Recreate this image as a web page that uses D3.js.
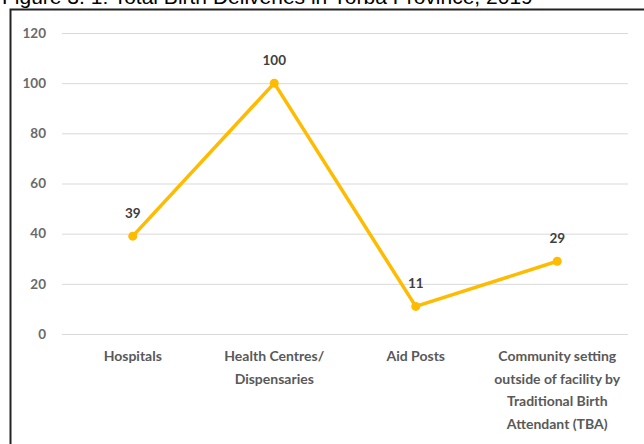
<!DOCTYPE html>
<html><head><meta charset="utf-8">
<script src="https://cdn.jsdelivr.net/npm/d3@7"></script>
<style>body{margin:0;background:#fff;overflow:hidden}svg{display:block}</style>
</head><body>
<script>
const categories = [["Hospitals"],["Health Centres/","Dispensaries"],["Aid Posts"],["Community setting","outside of facility by","Traditional Birth","Attendant (TBA)"]];
const values = [39, 100, 11, 29];
const yTicks = [0, 20, 40, 60, 80, 100, 120];
const title = "Figure 3. 1: Total Birth Deliveries in Yorba Province, 2019";

const W = 644, H = 444;
const svg = d3.select("body").append("svg").attr("width", W).attr("height", H);
const font = "Lato, 'Open Sans', sans-serif";

svg.append("text").attr("x", 2).attr("y", 4).attr("font-family", "'Liberation Sans', Arial, sans-serif")
  .attr("font-size", 21).attr("fill", "#000").text(title);

// frame
svg.append("rect").attr("x", 10.5).attr("y", 9.5).attr("width", 700).attr("height", 500)
  .attr("fill", "none").attr("stroke", "#222").attr("stroke-width", 2);

const x = d3.scalePoint().domain(d3.range(categories.length)).range([62, 628]).padding(0.5);
const y = d3.scaleLinear().domain([0, 120]).range([334, 33]);

const yAxis = svg.append("g").attr("transform", "translate(62,0)")
  .call(d3.axisLeft(y).tickValues(yTicks).tickSize(-566).tickPadding(16));
yAxis.select(".domain").remove();
yAxis.selectAll(".tick line").attr("stroke", "#d9d9d9").attr("stroke-width", 1);
yAxis.selectAll(".tick text").attr("font-family", font).attr("font-size", 13.5)
  .attr("font-weight", "bold").attr("fill", "#6a6a6a");

const xg = svg.append("g");
categories.forEach((lines, i) => {
  const t = xg.append("text").attr("x", x(i)).attr("y", 361).attr("text-anchor", "middle")
    .attr("font-family", font).attr("font-size", 14).attr("font-weight", "bold").attr("fill", "#595959");
  lines.forEach((l, j) => t.append("tspan").attr("x", x(i)).attr("dy", j === 0 ? 0 : 22.7).text(l));
});

const color = "#ffbb00";
svg.append("path").datum(values)
  .attr("d", d3.line().x((d, i) => x(i)).y(d => y(d)))
  .attr("fill", "none").attr("stroke", color).attr("stroke-width", 3.5).attr("stroke-linejoin", "round");

svg.selectAll("circle.pt").data(values).join("circle").attr("class", "pt")
  .attr("cx", (d, i) => x(i)).attr("cy", d => y(d)).attr("r", 4.5).attr("fill", color);

svg.selectAll("text.lbl").data(values).join("text").attr("class", "lbl")
  .attr("x", (d, i) => x(i)).attr("y", d => y(d) - 18).attr("text-anchor", "middle")
  .attr("font-family", font).attr("font-size", 13.5).attr("font-weight", "bold").attr("fill", "#404040")
  .text(d => d);
</script>
</body></html>
